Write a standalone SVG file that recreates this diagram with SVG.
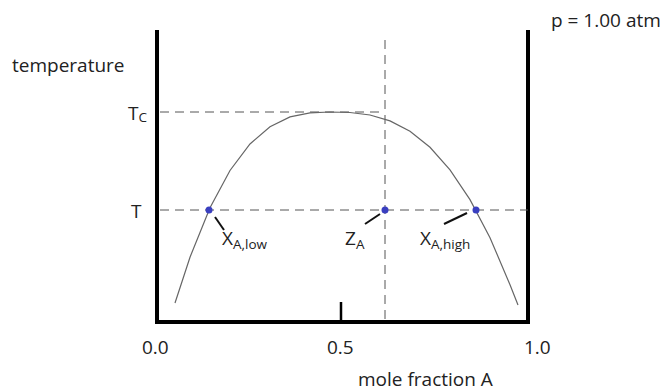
<svg xmlns="http://www.w3.org/2000/svg" width="666" height="391" viewBox="0 0 666 391">
<style>
text{font-family:"Open Sans","Noto Sans","DejaVu Sans",sans-serif;font-size:19px;fill:#222}
.sub{font-size:13.5px}
.axis{stroke:#000;stroke-width:4;fill:none}
.dash{stroke:#555;stroke-width:1;stroke-dasharray:9 6;fill:none}
.lead{stroke:#111;stroke-width:2}
.dot{fill:#3a3fc0}
</style>
<rect width="666" height="391" fill="#fff"/>
<g id="frame">
<path class="axis" d="M157,30 V322 H528 V30"/>
<line x1="341" y1="302" x2="341" y2="322" stroke="#000" stroke-width="2.5"/>
</g>
<g id="connectors">
<line class="dash" x1="160" y1="112" x2="385" y2="112"/>
<line class="dash" x1="160" y1="210" x2="528" y2="210"/>
<line class="dash" x1="385" y1="40" x2="385" y2="322"/>
<polyline fill="none" stroke="#666" stroke-width="1.2" points="175,303 190,257.2 210,207.8 230,170.5 250,144 270,126.7 290,116.9 310,112.8 330,112 350,112.5 370,115 390,120.9 410,131.3 430,147.3 450,169.8 470,199.6 490,237.7 510,284.7 518,305"/>
<line class="lead" x1="215" y1="217" x2="224" y2="230"/>
<line class="lead" x1="380" y1="214" x2="365" y2="224"/>
<line class="lead" x1="467" y1="213" x2="444" y2="224"/>
</g>
<g id="points">
<circle class="dot" cx="209" cy="210" r="3.5"/>
<circle class="dot" cx="385" cy="210" r="3.5"/>
<circle class="dot" cx="476" cy="210" r="3.5"/>
</g>
<g id="labels">
<text x="12" y="72">temperature</text>
<text x="551" y="27">p = 1.00 atm</text>
<text x="128" y="120">T<tspan class="sub" dy="2" font-size="15">C</tspan></text>
<text x="131" y="218">T</text>
<text x="222" y="245">X<tspan class="sub" dy="4">A,low</tspan></text>
<text x="345" y="245">Z<tspan class="sub" dy="4">A</tspan></text>
<text x="420" y="245">X<tspan class="sub" dy="4">A,high</tspan></text>
<text x="142" y="354">0.0</text>
<text x="327" y="354">0.5</text>
<text x="524" y="354">1.0</text>
<text x="358" y="386">mole fraction A</text>
</g>
</svg>
